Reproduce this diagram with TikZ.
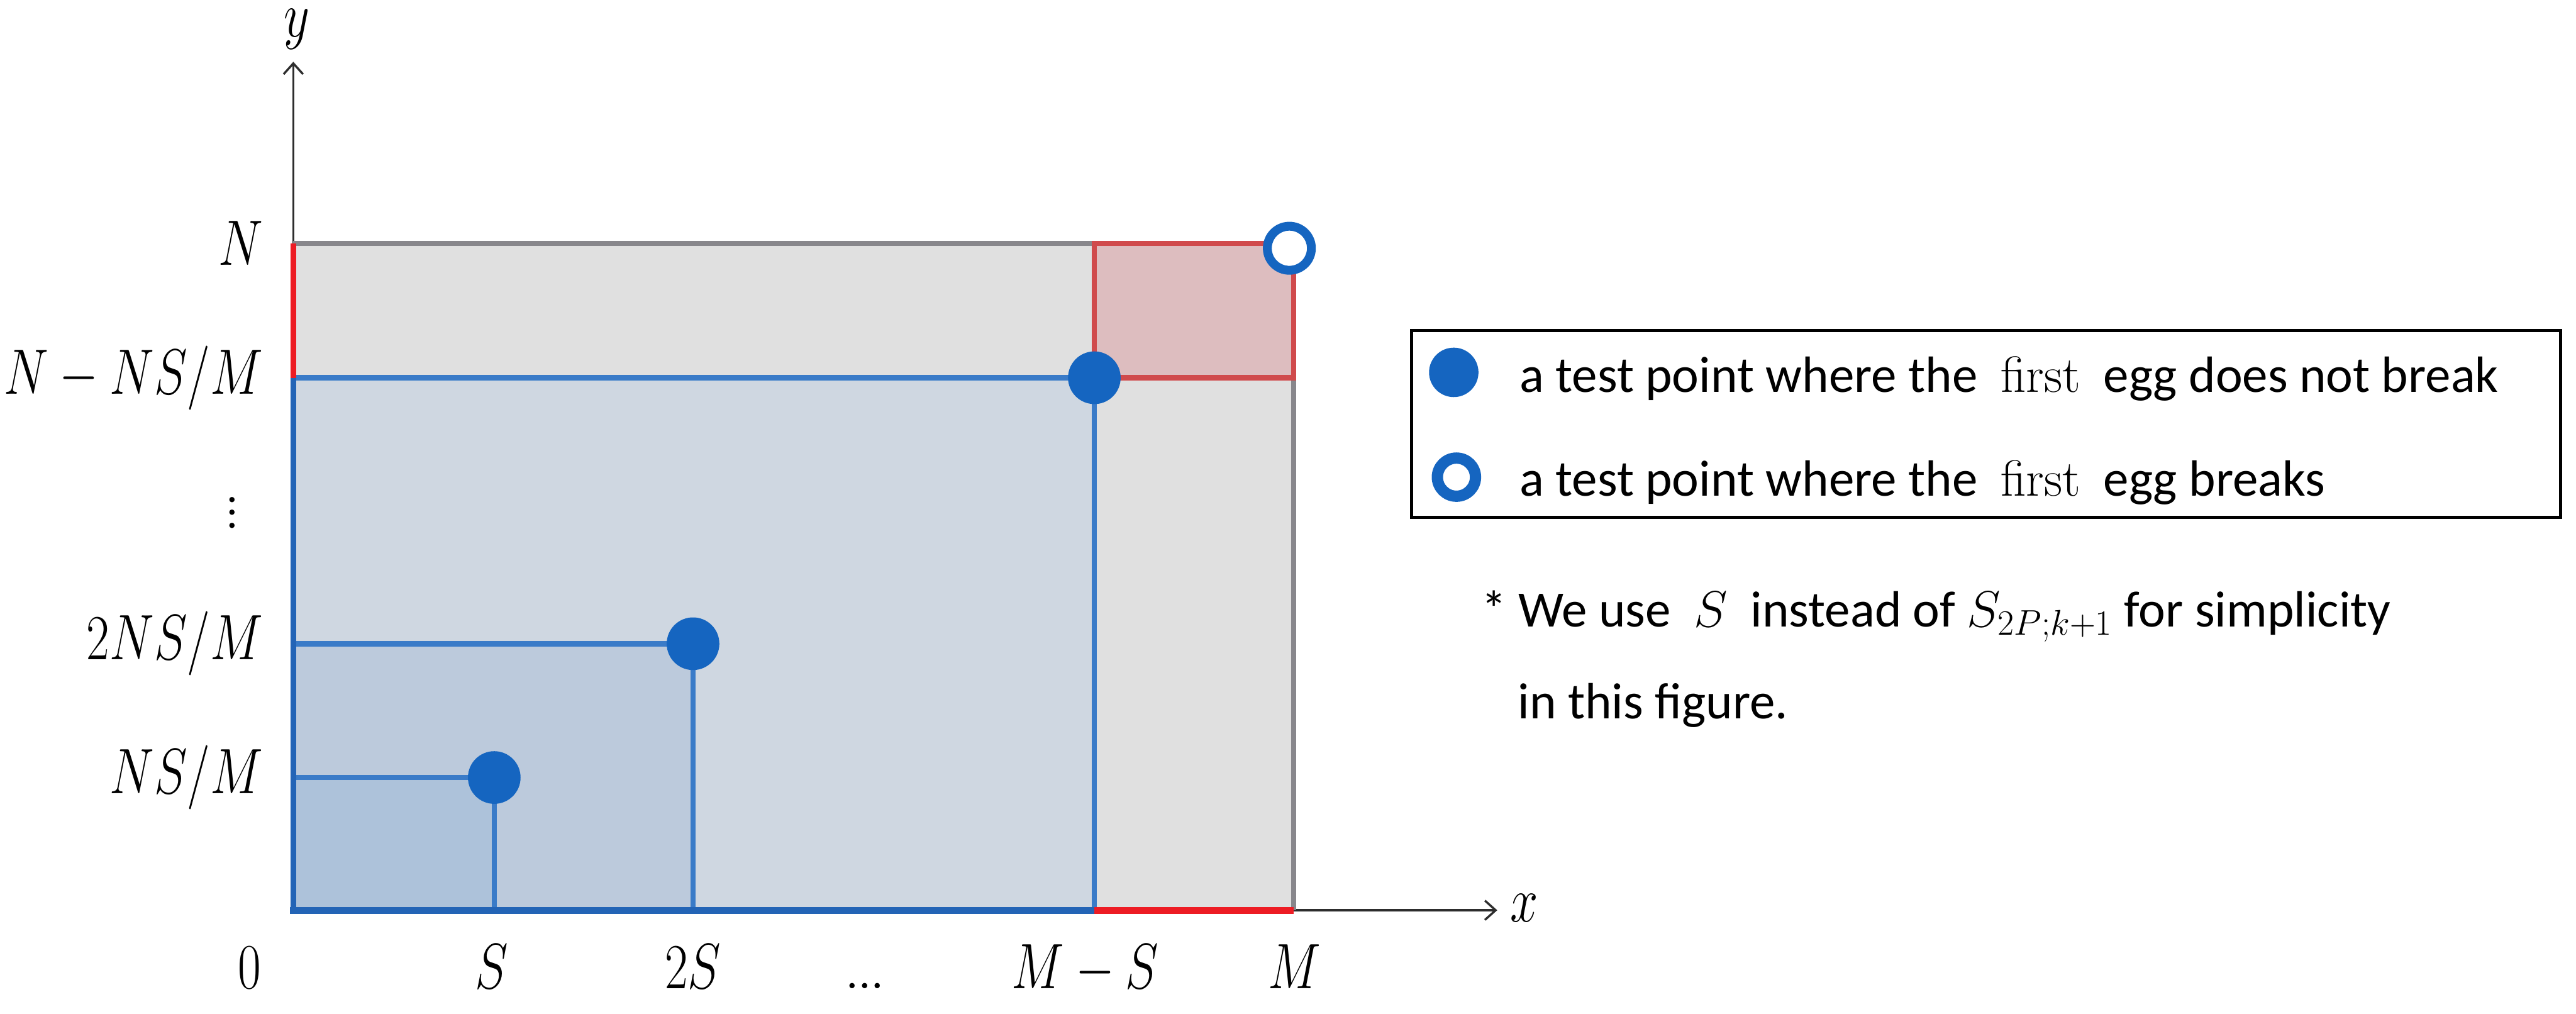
\documentclass[tikz,border=0pt]{standalone}
\usepackage{fix-cm}
\usepackage{graphicx}
\usepackage{fontspec}
\setsansfont{Carlito}
\usetikzlibrary{arrows.meta, positioning, calc}
\definecolor{AxisGray}{RGB}{45,45,45}
\definecolor{BoxGray}{RGB}{224,224,224}
\definecolor{EdgeGray}{RGB}{136,135,140}
\definecolor{PaleBlue}{RGB}{207,215,225}
\definecolor{MidBlue}{RGB}{188,202,220}
\definecolor{DeepBlue}{RGB}{173,194,218}
\definecolor{LineBlue}{RGB}{58,123,200}
\definecolor{BaseBlue}{RGB}{35,100,182}
\definecolor{DotBlue}{RGB}{21,101,192}
\definecolor{PaleRed}{RGB}{221,189,191}
\definecolor{LineRed}{RGB}{208,74,76}
\definecolor{BrightRed}{RGB}{237,28,36}
\newcommand{\narrowmath}[1]{\scalebox{0.78}[1]{$#1$}}
\newcommand{\tightdots}{.\kern-1.7pt.\kern-1.7pt.}

\begin{document}
\begin{tikzpicture}[
    mlabel/.style={font=\fontsize{34}{40}\selectfont, inner sep=0pt},
    legtext/.style={font=\sffamily\fontsize{27}{33}\selectfont, inner sep=0pt, anchor=base west},
    axis/.style={-{Straight Barb[length=2mm, width=3.6mm]}, line width=0.04cm, AxisGray},
    edge/.style={line width=0.1cm},
    hit/.style={circle, fill=DotBlue, inner sep=0pt, minimum size=0.98cm},
    miss/.style={circle, draw=DotBlue, fill=white, line width=0.165cm, inner sep=0pt, minimum size=0.82cm},
]
\useasboundingbox (0,0) rectangle (47.95,18.87);

% ejes
\coordinate (O) at (5.46,1.93);
\coordinate (ytip) at (5.46,17.72);
\coordinate (xtip) at (27.87,1.93);
\draw[axis] (O) -- (ytip);
\draw[axis] (O) -- (xtip);
\node[mlabel] (ylab) at (5.52,18.33) {\narrowmath{y}};
\node[mlabel] (xlab) at (28.37,1.97) {\narrowmath{x}};

% regiones
\fill[BoxGray] (5.46,1.93) rectangle (24.08,14.34);
\fill[PaleBlue] (5.46,1.93) rectangle (20.37,11.84);
\fill[MidBlue] (5.46,1.93) rectangle (12.90,6.89);
\fill[DeepBlue] (5.46,1.93) rectangle (9.20,4.40);
\fill[PaleRed] (20.37,11.84) rectangle (24.08,14.34);

% bordes
\draw[edge, EdgeGray] (5.46,14.34) -- (20.37,14.34);
\draw[edge, EdgeGray] (24.08,1.93) -- (24.08,11.84);
\draw[edge, LineBlue] (5.46,11.84) -- (20.37,11.84) -- (20.37,1.93);
\draw[edge, LineBlue] (5.46,6.89) -- (12.90,6.89) -- (12.90,1.93);
\draw[edge, LineBlue] (5.46,4.40) -- (9.20,4.40) -- (9.20,1.93);
\draw[edge, LineRed] (20.37,11.84) rectangle (24.08,14.34);
\draw[edge, BrightRed] (5.46,11.84) -- (5.46,14.34);
\draw[edge, BaseBlue] (5.46,1.93) -- (5.46,11.84);
\draw[line width=0.13cm, BaseBlue] (5.40,1.93) -- (20.37,1.93);
\draw[line width=0.13cm, BrightRed] (20.37,1.93) -- (24.08,1.93);

% puntos de prueba
\node[hit] (p1) at (9.20,4.40) {};
\node[hit] (p2) at (12.90,6.89) {};
\node[hit] (p3) at (20.37,11.84) {};
\node[miss] (p4) at (24.00,14.25) {};

% etiquetas del eje y
\node[mlabel, anchor=east] (lN) at (4.90,14.34) {\narrowmath{N}};
\node[mlabel, anchor=east] (lNNS) at (4.90,11.84) {\narrowmath{N-NS/M}};
\node[mlabel] (ldots) at (4.32,9.33) {\rotatebox{90}{\tightdots}};
\node[mlabel, anchor=east] (l2NS) at (4.90,6.89) {\narrowmath{2NS/M}};
\node[mlabel, anchor=east] (lNS) at (4.90,4.40) {\narrowmath{NS/M}};

% etiquetas del eje x
\node[mlabel, anchor=base] (t0) at (4.64,0.47) {\narrowmath{0}};
\node[mlabel, anchor=base] (tS) at (9.15,0.47) {\narrowmath{S}};
\node[mlabel, anchor=base] (t2S) at (12.90,0.47) {\narrowmath{2S}};
\node[mlabel, anchor=base] (tdots) at (16.10,0.47) {\tightdots};
\node[mlabel, anchor=base] (tMS) at (20.20,0.47) {\narrowmath{M-S}};
\node[mlabel, anchor=base] (tM) at (24.10,0.47) {\narrowmath{M}};

% leyenda
\node[draw, line width=0.06cm, minimum width=21.39cm, minimum height=3.48cm] (legend) at (36.97,10.98) {};
\node[hit, minimum size=0.92cm] (k1) at (27.06,11.94) {};
\node[miss, line width=0.21cm, minimum size=0.71cm] (k2) at (27.11,9.99) {};
\node[legtext] (k1txt) at (28.28,11.57) {a test point where the\ \ \textrm{first}\ \ egg does not break};
\node[legtext] (k2txt) at (28.28,9.64) {a test point where the\ \ \textrm{first}\ \ egg breaks};

% nota
\node[legtext] (note1) at (27.57,7.20) {* We use\ \ $S$\ \ instead of $S_{2P;k+1}$ for simplicity};
\node[legtext] (note2) at (28.25,5.50) {in this figure.};

\end{tikzpicture}
\end{document}
